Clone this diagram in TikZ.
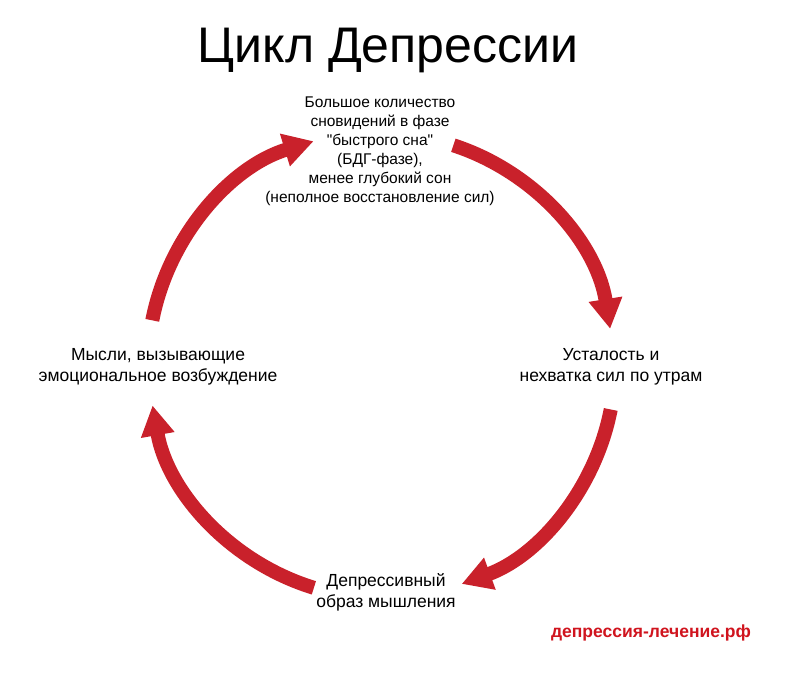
\documentclass[tikz,border=0pt]{standalone}
\usepackage{fontspec}
\setmainfont[Ligatures=TeXOff]{Liberation Sans}
\usetikzlibrary{arrows.meta}
\definecolor{arcred}{HTML}{C9212B}
\definecolor{markred}{HTML}{D0141E}
\begin{document}
\begin{tikzpicture}[x=1pt,y=1pt,
  cyc/.style={line width=14pt,draw=arcred,-{Triangle[length=30pt,width=32pt]}},
  lbl/.style={align=center,font=\fontsize{17.5}{21}\selectfont}]
\useasboundingbox[fill=white] (0,0) rectangle (800,689);
\coordinate (c) at (382,324);
\node (title) at (388,639) {\fontsize{50}{54}\selectfont Цикл Депрессии};
\node[lbl,font=\fontsize{15.5}{19}\selectfont] (sleep) at (380,538) {Большое количество\\сновидений в фазе\\"быстрого сна"\\(БДГ-фазе),\\менее глубокий сон\\(неполное восстановление сил)};
\node[lbl] (tired) at (611,322) {Усталость и\\нехватка сил по утрам};
\node[lbl] (think) at (386,97) {Депрессивный\\образ мышления};
\node[lbl] (mind) at (158,322) {Мысли, вызывающие\\эмоциональное возбуждение};
\node[font=\bfseries\fontsize{17.5}{21}\selectfont,text=markred] (site) at (651,56) {депрессия-лечение.рф};
\draw[cyc] ([shift={(72:231)}]c) arc[start angle=72,end angle=9,radius=231];
\draw[cyc] ([shift={(-11:233)}]c) arc[start angle=-11,end angle=-70,radius=233];
\draw[cyc] ([shift={(-107:233)}]c) arc[start angle=-107,end angle=-170,radius=233];
\draw[cyc] ([shift={(169:234)}]c) arc[start angle=169,end angle=107,radius=234];
\end{tikzpicture}
\end{document}
